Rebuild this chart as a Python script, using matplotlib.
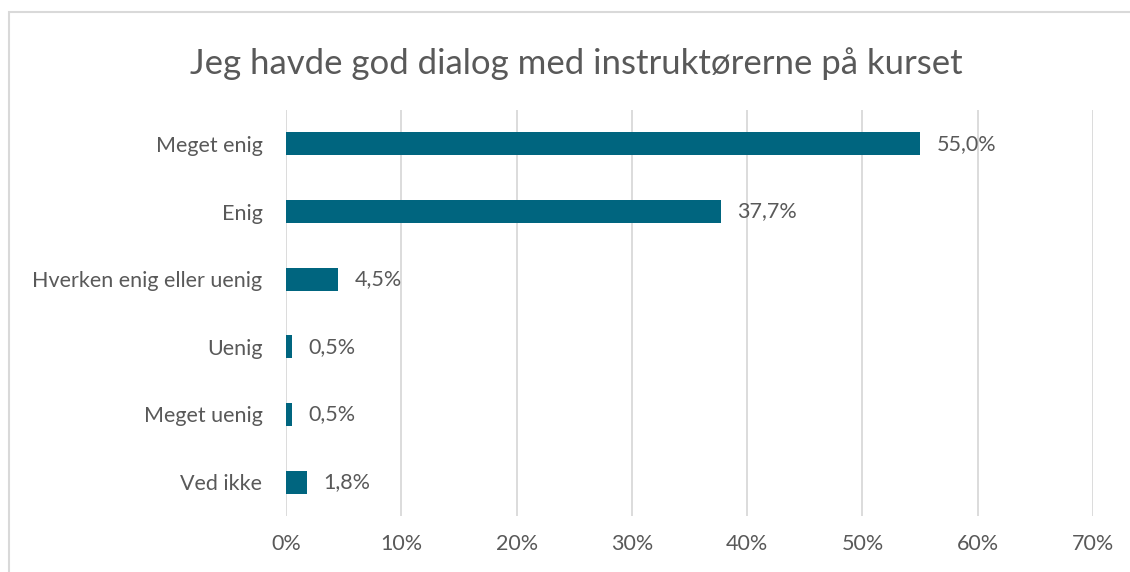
import matplotlib.pyplot as plt
from matplotlib.patches import Rectangle
from matplotlib.ticker import FuncFormatter

# data
kategorier = ["Meget enig", "Enig", "Hverken enig eller uenig", "Uenig", "Meget uenig", "Ved ikke"]
andele = [55.0, 37.7, 4.5, 0.5, 0.5, 1.8]
titel = "Jeg havde god dialog med instruktørerne på kurset"

plt.rcParams['font.family'] = ['Lato', 'DejaVu Sans']
tekstfarve = "#595959"
bjaelkefarve = "#00657F"
fs = 15.5

fig = plt.figure(figsize=(11.3, 5.72), dpi=100)
ax = fig.add_axes([286 / 1130, 1 - 516 / 572, (1093 - 286) / 1130, (516 - 110) / 572])

# ramme rundt om diagrammet
fig.patches.append(Rectangle((9 / 1130, -0.1), 1.2, 1 - 12 / 572 + 0.1, transform=fig.transFigure,
                             fill=False, edgecolor="#D9D9D9", linewidth=1.5))

pos = list(range(len(kategorier)))
ax.barh(pos, andele, height=0.34, color=bjaelkefarve, zorder=3)
ax.set_ylim(len(kategorier) - 0.5, -0.5)
ax.set_xlim(0, 70)
ax.set_xticks(range(0, 71, 10))
ax.xaxis.set_major_formatter(FuncFormatter(lambda v, p: f"{int(v)}%"))
ax.set_yticks(pos)
ax.set_yticklabels(kategorier)

for p, v in zip(pos, andele):
    ax.annotate(f"{v:.1f}%".replace(".", ","), (v, p), xytext=(12, 0), textcoords="offset points",
                va="center", ha="left", fontsize=fs, color=tekstfarve)

ax.grid(axis="x", color="#D9D9D9", linewidth=1.3, zorder=0)
for s in ax.spines.values():
    s.set_visible(False)
ax.tick_params(axis="both", length=0, labelsize=fs, labelcolor=tekstfarve)
ax.tick_params(axis="x", pad=13)
ax.tick_params(axis="y", pad=17)

fig.text((193 + 960) / 2 / 1130, 1 - 64 / 572, titel, ha="center", va="center",
         fontsize=25, color=tekstfarve)

fig.savefig("out.png", dpi=100)
